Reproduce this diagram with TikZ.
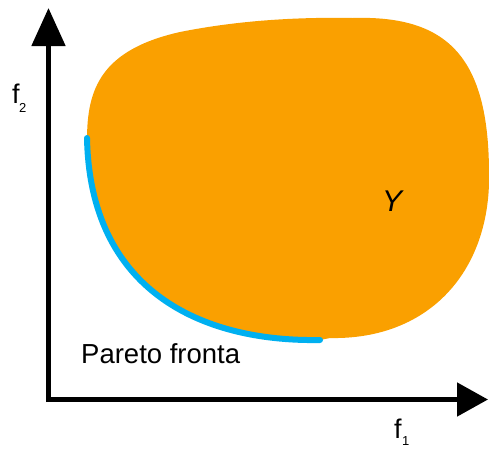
\documentclass[tikz,border=0pt]{standalone}
\usepackage{fontspec}
\setmainfont{Liberation Sans}
\usetikzlibrary{arrows.meta}
\definecolor{blobor}{RGB}{250,160,0}
\definecolor{paretoblue}{RGB}{0,176,240}
\tikzset{
  axis/.style={line width=5pt},
  lbl/.style={inner sep=0pt, font=\fontsize{27}{27}\selectfont},
  sublbl/.style={inner sep=0pt, font=\fontsize{13}{13}\selectfont},
}
\begin{document}
\begin{tikzpicture}[x=1pt,y=-1pt]
\useasboundingbox (0,0) rectangle (489,448);
% feasible set Y
\fill[blobor] (87,140) .. controls (87,90) and (100,50) .. (180,32)
  .. controls (240,20) and (300,17) .. (353,18)
  .. controls (450,15) and (488,60) .. (489,170)
  .. controls (492,270) and (430,340) .. (330,338)
  -- (320,340) .. controls (200,342) and (90,290) .. (87,140) -- cycle;
% Pareto front
\coordinate (pfa) at (87,138);
\coordinate (pfb) at (320,340);
\draw[paretoblue, line width=6pt, line cap=round] (pfa) .. controls (90,290) and (200,342) .. (pfb);
% axes
\coordinate (ytip) at (48.5,8);
\coordinate (xtip) at (488,399.5);
\draw[axis, -{Triangle[length=38pt,width=33pt]}] (48.5,402) -- (ytip);
\draw[axis, -{Triangle[length=31pt,width=33pt]}] (46,399.5) -- (xtip);
% labels
\node[lbl, anchor=base west] (f2) at (12,103) {f};
\node[sublbl, anchor=base west] (s2) at (19,112) {2};
\node[lbl, anchor=base west] (f1) at (394,438) {f};
\node[sublbl, anchor=base west] (s1) at (402,445.5) {1};
\node[inner sep=0pt, font=\fontsize{30}{30}\selectfont\itshape] (Y) at (392,201) {Y};
\node[inner sep=0pt, anchor=base west, font=\fontsize{27.5}{27.5}\selectfont] (pf) at (81,363) {Pareto fronta};
\end{tikzpicture}
\end{document}
